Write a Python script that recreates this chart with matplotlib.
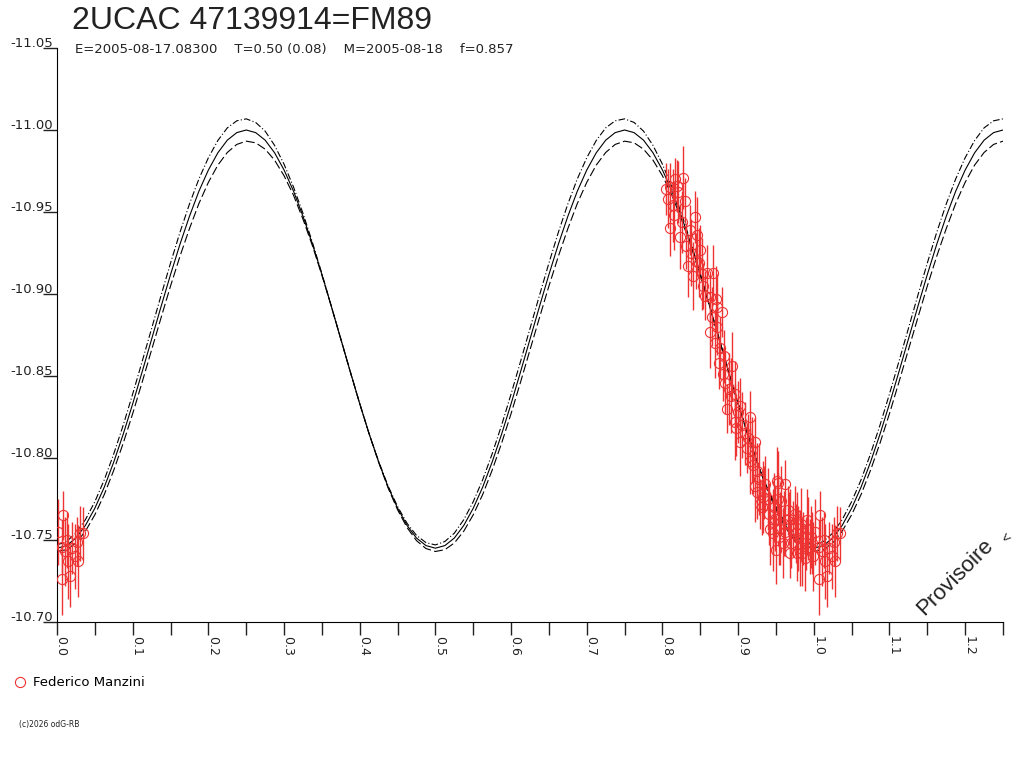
import numpy as np
import matplotlib
matplotlib.use('Agg')
import matplotlib.pyplot as plt
from matplotlib.lines import Line2D
from matplotlib.transforms import ScaledTranslation

plt.rcParams['font.family'] = ['Liberation Sans', 'DejaVu Sans']

# model light curve over one cycle (phase 0 .. 0.4875, step 0.0125); it repeats every 0.5
cycle_mag = [-10.7450, -10.7466, -10.7512, -10.7589, -10.7694, -10.7823, -10.7976, -10.8146,
             -10.8331, -10.8526, -10.8725, -10.8924, -10.9119, -10.9304, -10.9474, -10.9627,
             -10.9756, -10.9861, -10.9938, -10.9984, -11.0000, -10.9984, -10.9938, -10.9861,
             -10.9756, -10.9627, -10.9474, -10.9304, -10.9119, -10.8924, -10.8725, -10.8526,
             -10.8331, -10.8146, -10.7976, -10.7823, -10.7694, -10.7589, -10.7512, -10.7466]
# spread of the uncertainty curves around the model, same sampling
cycle_spread = [0.0020, 0.0025, 0.0030, 0.0035, 0.0040, 0.0045, 0.0050, 0.0055,
                0.0060, 0.0063, 0.0065, 0.0068, 0.0070, 0.0073, 0.0075, 0.0075,
                0.0075, 0.0075, 0.0075, 0.0072, 0.0068, 0.0062, 0.0055, 0.0045,
                0.0035, 0.0025, 0.0018, 0.0010, 0.0005, 0.0000, 0.0000, 0.0000,
                0.0000, 0.0000, 0.0003, 0.0006, 0.0010, 0.0013, 0.0016, 0.0018]

# observations (Federico Manzini)
obs_phase = [0.8098, 0.8164, 0.8270, 0.8137, 0.8098, 0.8296, 0.8230, 0.8428, 0.8454, 0.8494,
             0.8336, 0.8666, 0.8402, 0.8534, 0.8626, 0.8719, 0.8785, 0.8626, 0.8719, 0.8758,
             0.8798, 0.8917, 0.8851, 0.8956, 0.9023, 0.8956, 0.9155, 0.9089, 0.9023, 0.9221,
             0.9155, 0.9247, 0.9221, 0.9247, 0.9524, 0.9617, 0.9511, 0.9313, 0.9458, 0.9458,
             0.9775, 0.9908, 0.9683, 0.9617, 0.9841, 0.9775, 0.9987, 0.9524, 0.9392, 0.9326,
             0.9287, 0.9485, 0.9723, 0.9815, 0.9855, 0.9974, 0.9590, 0.9683, 0.9881, 0.9749,
             0.9551, 0.8045, 0.8203, 0.8362, 0.8481, 0.8587, 0.8706, 0.8811, 0.8877, 0.8996,
             0.9128, 0.9181, 0.9353, 0.9564, 0.9670, 0.9921, 0.9419, 0.9657, 0.9789, 0.9947,
             0.8072, 0.8150, 0.8190, 0.8257, 0.8310, 0.8375, 0.8441, 0.8520, 0.8560, 0.8652,
             0.8692, 0.8745, 0.8825, 0.8904, 0.8970, 0.9050, 0.9115, 0.9195, 0.9274, 0.9340,
             0.9406, 0.9472, 0.9538, 0.9604, 0.9700, 0.9762, 0.9828, 0.9894, 0.9960, 0.9500]
obs_mag = [-10.965, -10.970, -10.971, -10.954, -10.940, -10.957, -10.935, -10.947, -10.936, -10.927,
           -10.917, -10.913, -10.911, -10.905, -10.898, -10.892, -10.889, -10.877, -10.880, -10.867,
           -10.851, -10.856, -10.830, -10.839, -10.832, -10.822, -10.825, -10.815, -10.810, -10.810,
           -10.798, -10.792, -10.783, -10.779, -10.785, -10.784, -10.786, -10.770, -10.761, -10.754,
           -10.763, -10.762, -10.759, -10.755, -10.742, -10.742, -10.740, -10.775, -10.775, -10.776,
           -10.772, -10.763, -10.757, -10.745, -10.751, -10.748, -10.748, -10.742, -10.739, -10.766,
           -10.757, -10.964, -10.962, -10.939, -10.919, -10.913, -10.897, -10.862, -10.842, -10.828,
           -10.812, -10.805, -10.784, -10.774, -10.763, -10.757, -10.757, -10.768, -10.751, -10.746,
           -10.958, -10.948, -10.966, -10.944, -10.929, -10.925, -10.920, -10.912, -10.899, -10.886,
           -10.870, -10.858, -10.846, -10.838, -10.818, -10.820, -10.806, -10.796, -10.787, -10.779,
           -10.766, -10.770, -10.752, -10.760, -10.748, -10.754, -10.760, -10.748, -10.752, -10.744]
obs_err = [0.015, 0.013, 0.019, 0.022, 0.017, 0.014, 0.020, 0.016, 0.023, 0.015,
           0.019, 0.017, 0.021, 0.014, 0.016, 0.020, 0.015, 0.022, 0.017, 0.019,
           0.016, 0.021, 0.015, 0.020, 0.017, 0.023, 0.016, 0.019, 0.021, 0.015,
           0.020, 0.017, 0.022, 0.016, 0.019, 0.015, 0.021, 0.017, 0.020, 0.023,
           0.016, 0.019, 0.022, 0.015, 0.020, 0.017, 0.021, 0.016, 0.019, 0.022,
           0.015, 0.020, 0.017, 0.023, 0.016, 0.019, 0.021, 0.015, 0.020, 0.017,
           0.022, 0.016, 0.019, 0.015, 0.021, 0.017, 0.020, 0.016, 0.022, 0.019,
           0.015, 0.020, 0.017, 0.021, 0.016, 0.019, 0.022, 0.015, 0.020, 0.017,
           0.018, 0.021, 0.016, 0.019, 0.014, 0.020, 0.017, 0.022, 0.015, 0.018,
           0.021, 0.016, 0.019, 0.023, 0.017, 0.020, 0.015, 0.018, 0.022, 0.016,
           0.019, 0.021, 0.017, 0.020, 0.015, 0.018, 0.022, 0.016, 0.019, 0.021]

# observations past phase 1.0 (also shown folded back near 0.0)
wrap_phase = [1.0013, 1.0066, 1.0066, 1.0079, 1.0106, 1.0132, 1.0145, 1.0172, 1.0198, 1.0238,
              1.0264, 1.0277, 1.0304, 1.0343]
wrap_mag = [-10.755, -10.746, -10.726, -10.765, -10.743, -10.750, -10.737, -10.728, -10.745, -10.740,
            -10.749, -10.737, -10.754, -10.754]
wrap_err = [0.020, 0.016, 0.022, 0.015, 0.021, 0.017, 0.023, 0.019, 0.016, 0.020,
            0.015, 0.022, 0.017, 0.016]

red = '#ee3333'
dark = '#222222'
small_font = ['DejaVu Sans']

# build the model over the plotted phase range 0 .. 1.25
n_pts = 101
phase_model = np.arange(n_pts) * 0.0125
mag_model = np.resize(cycle_mag, n_pts)
spread = np.resize(cycle_spread, n_pts)

fig = plt.figure(figsize=(10.24, 7.68), dpi=100)
ax = fig.add_axes([0.0557, 0.1901, 0.9238, 0.7474])

ax.plot(phase_model, mag_model, color='black', lw=0.8)
ax.plot(phase_model, mag_model - spread, color='black', lw=0.8, dashes=(6, 2, 1, 2))
ax.plot(phase_model, mag_model + spread, color='black', lw=0.8, dashes=(8, 3))

eb_style = dict(fmt='o', color=red, mfc='none', mec=red, ms=7.3, mew=0.8,
                elinewidth=1.0, capsize=0, zorder=3)
ax.errorbar(obs_phase, obs_mag, yerr=obs_err, **eb_style)
ax.errorbar(wrap_phase, wrap_mag, yerr=wrap_err, **eb_style)
ax.errorbar(np.array(wrap_phase) - 1.0, wrap_mag, yerr=wrap_err, **eb_style)

ax.set_xlim(0, 1.25)
ax.set_ylim(-10.70, -11.05)
ax.spines['top'].set_visible(False)
ax.spines['right'].set_visible(False)

xt = np.arange(0, 1.26, 0.1)
ax.set_xticks(xt)
ax.set_xticks(np.arange(0.05, 1.26, 0.1), minor=True)
ax.set_xticklabels(['%.1f' % v for v in xt], rotation=-90, fontsize=9, family=small_font)
ax.tick_params(axis='x', which='both', direction='out', length=9, width=1, pad=1, colors=dark)
for lab in ax.get_xticklabels():
    lab.set_transform(lab.get_transform() + ScaledTranslation(4 / 100, 0, fig.dpi_scale_trans))

yt = np.arange(-11.05, -10.69, 0.05)
ax.set_yticks(yt)
ax.set_yticklabels(['%.2f' % v for v in yt], fontsize=9.5, family=small_font)
ax.tick_params(axis='y', direction='out', length=10, width=1, pad=-7, colors=dark)
for lab in ax.get_yticklabels():
    lab.set_transform(lab.get_transform() + ScaledTranslation(0, 6 / 100, fig.dpi_scale_trans))

fig.text(72 / 1024, 1 - 29 / 768, '2UCAC 47139914=FM89', fontsize=23, color=dark, va='baseline')
fig.text(75 / 1024, 1 - 53 / 768,
         'E=2005-08-17.08300    T=0.50 (0.08)    M=2005-08-18    f=0.857',
         fontsize=9.5, family=small_font, color=dark, va='baseline')

fig.text(955 / 1024, 1 - 577 / 768, 'Provisoire', fontsize=16, rotation=45,
         ha='center', va='center', color=dark)
fig.text(1007 / 1024, 1 - 538 / 768, '<', fontsize=10, rotation=45,
         ha='center', va='center', color=dark)

handle = Line2D([], [], marker='o', ls='none', mfc='none', mec=red, ms=7.3, mew=0.8)
fig.legend([handle], ['Federico Manzini'], loc='center left', bbox_to_anchor=(0.008, 1 - 683 / 768),
           frameon=False, prop={'family': small_font, 'size': 9.5},
           handlelength=0.8, handletextpad=0.6, borderpad=0)
fig.text(19 / 1024, 1 - 724 / 768, '(c)2026 odG-RB', fontsize=5.5, family=small_font,
         color=dark, va='center')

fig.savefig('out.png', dpi=100)
